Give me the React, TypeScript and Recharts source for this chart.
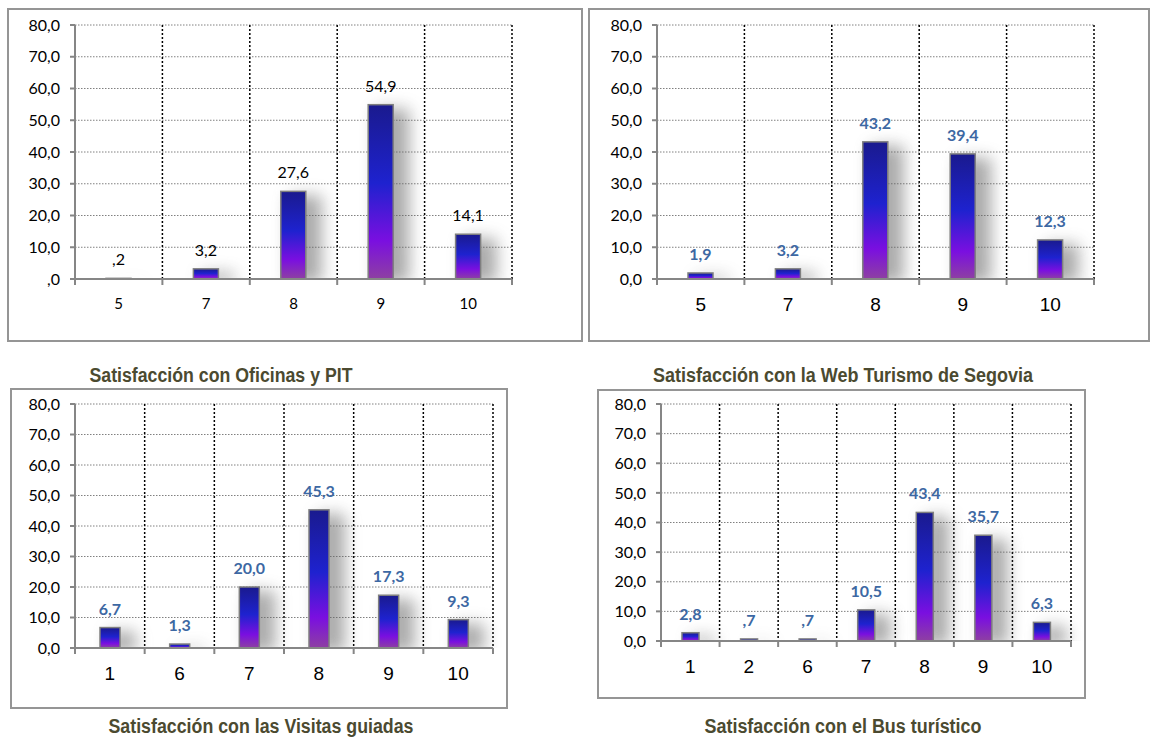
import { BarChart, Bar, XAxis, YAxis, CartesianGrid, LabelList } from 'recharts'

// Satisfacción con Oficinas y PIT
const oficinasCats = ['5', '7', '8', '9', '10']
const oficinasVals = [0.2, 3.2, 27.6, 54.9, 14.1]

// Satisfacción con la Web Turismo de Segovia
const webCats = ['5', '7', '8', '9', '10']
const webVals = [1.9, 3.2, 43.2, 39.4, 12.3]

// Satisfacción con las Visitas guiadas
const visitasCats = ['1', '6', '7', '8', '9', '10']
const visitasVals = [6.7, 1.3, 20.0, 45.3, 17.3, 9.3]

// Satisfacción con el Bus turístico
const busCats = ['1', '2', '6', '7', '8', '9', '10']
const busVals = [2.8, 0.7, 0.7, 10.5, 43.4, 35.7, 6.3]

const yTicks = [0, 10, 20, 30, 40, 50, 60, 70, 80]

const CALIBRI = "Lato, 'Open Sans', sans-serif"
const ARIAL = "'Liberation Sans', Arial, sans-serif"
const TITLE_FONT = "'Liberation Sans Narrow', 'Arial Narrow', 'Liberation Sans', Arial, sans-serif"
const AXIS_GRAY = '#868686'
const LABEL_BLUE = '#3d68a3'

const fmtNum = (v: number, leadingZero: boolean) => {
  let s = v.toFixed(1).replace('.', ',')
  if (!leadingZero && s.startsWith('0')) s = s.slice(1)
  return s
}

type Box = { left: number; top: number; width: number; height: number }
type Plot = { l: number; r: number; t: number; b: number }

interface PanelProps {
  id: string
  cats: string[]
  vals: number[]
  box: Box
  plot: Plot
  barSize: number
  classic?: boolean // first panel: small Calibri ticks, black labels, ",0"
}

const Y_AXIS_W = 50
const X_AXIS_H = 30

function Panel({ id, cats, vals, box, plot, barSize, classic }: PanelProps) {
  const data = cats.map((c, i) => ({ cat: c, v: vals[i] }))
  const margin = {
    left: plot.l - box.left - Y_AXIS_W,
    right: box.left + box.width - plot.r,
    top: plot.t - box.top,
    bottom: box.top + box.height - plot.b - X_AXIS_H,
  }
  const plotW = plot.r - plot.l
  const n = cats.length

  const XTick = (props: any) => {
    const { x, y, payload, index } = props
    const step = plotW / n
    const left = x - step / 2
    return (
      <g>
        <line x1={left} x2={left} y1={y} y2={y + 6} stroke={AXIS_GRAY} strokeWidth={2} />
        {index === n - 1 && (
          <line x1={left + step} x2={left + step} y1={y} y2={y + 6} stroke={AXIS_GRAY} strokeWidth={2} />
        )}
        <text
          x={x}
          y={y + 25}
          dy="0.35em"
          textAnchor="middle"
          fill="#000"
          fontSize={classic ? 15 : 19}
          fontFamily={classic ? CALIBRI : ARIAL}
        >
          {payload.value}
        </text>
      </g>
    )
  }

  const BarShape = (props: any) => {
    const { x, y, width, height } = props
    if (width == null || height == null) return null
    return (
      <g>
        <rect
          x={x + 8}
          y={y + 4}
          width={width + 8}
          height={Math.max(height, 0)}
          fill="#666"
          opacity={0.55}
          filter={`url(#blur-${id})`}
        />
        <rect
          x={x}
          y={y}
          width={width}
          height={Math.max(height, 0.5)}
          fill={`url(#grad-${id})`}
          stroke="#7f7f7f"
          strokeWidth={1.5}
        />
      </g>
    )
  }

  return (
    <div style={{ position: 'absolute', left: box.left, top: box.top, width: box.width, height: box.height }}>
      <div
        style={{
          position: 'absolute',
          inset: 0,
          border: '2px solid #959595',
          boxSizing: 'border-box',
        }}
      />
      <div style={{ position: 'absolute', left: 0, top: 0 }}>
        <BarChart width={box.width} height={box.height} data={data} margin={margin} barCategoryGap={0}>
          <defs>
            <linearGradient id={`grad-${id}`} x1="0" y1="0" x2="0" y2="1">
              <stop offset="0%" stopColor="#1a1a8e" />
              <stop offset="45%" stopColor="#1e22cf" />
              <stop offset="78%" stopColor="#7a0fe0" />
              <stop offset="100%" stopColor="#8e40a2" />
            </linearGradient>
            <filter id={`blur-${id}`} filterUnits="userSpaceOnUse" x={-100} y={-100} width={2000} height={2000}>
              <feGaussianBlur stdDeviation={8} />
            </filter>
          </defs>
          <CartesianGrid
            vertical={false}
            stroke="#808080"
            strokeDasharray="1.5 1.5"
            strokeWidth={1}
          />
          <CartesianGrid
            horizontal={false}
            stroke="#000"
            strokeDasharray="2 2"
            strokeWidth={1.5}
            verticalCoordinatesGenerator={({ offset }: any) =>
              cats.map((_, i) => offset.left + ((i + 1) * offset.width) / n)
            }
          />
          <XAxis
            dataKey="cat"
            height={X_AXIS_H}
            axisLine={{ stroke: AXIS_GRAY, strokeWidth: 2 }}
            tickLine={false}
            tickSize={0}
            tickMargin={0}
            tick={<XTick />}
            interval={0}
          />
          <YAxis
            width={Y_AXIS_W}
            domain={[0, 80]}
            ticks={yTicks}
            allowDataOverflow
            axisLine={{ stroke: AXIS_GRAY, strokeWidth: 2 }}
            tickLine={{ stroke: AXIS_GRAY, strokeWidth: 2 }}
            tickSize={5}
            tickMargin={10}
            tickFormatter={(v: number) => fmtNum(v, !classic)}
            tick={{ fill: '#000', fontSize: 16, fontFamily: CALIBRI }}
          />
          <Bar dataKey="v" barSize={barSize} shape={<BarShape />} isAnimationActive={false}>
            <LabelList
              dataKey="v"
              position="top"
              offset={13}
              formatter={(v: any) => fmtNum(Number(v), false)}
              fill={classic ? '#000' : LABEL_BLUE}
              fontSize={16}
              fontWeight={classic ? 400 : 700}
              fontFamily={CALIBRI}
            />
          </Bar>
        </BarChart>
      </div>
    </div>
  )
}

const titles = [
  { text: 'Satisfacción con Oficinas y PIT', x: 221, y: 382, w: 263 },
  { text: 'Satisfacción con la Web Turismo de Segovia', x: 843, y: 382, w: 380 },
  { text: 'Satisfacción con las Visitas guiadas', x: 261, y: 733, w: 305 },
  { text: 'Satisfacción con el Bus turístico', x: 843, y: 733, w: 277 },
]

export default function App() {
  return (
    <div style={{ position: 'absolute', left: 0, top: 0, width: 1153, height: 737, background: '#fff', overflow: 'hidden' }}>
      <Panel
        id="ofi"
        cats={oficinasCats}
        vals={oficinasVals}
        box={{ left: 7, top: 8, width: 576, height: 334 }}
        plot={{ l: 75, r: 512, t: 25, b: 279 }}
        barSize={25}
        classic
      />
      <Panel
        id="web"
        cats={webCats}
        vals={webVals}
        box={{ left: 588, top: 8, width: 562, height: 334 }}
        plot={{ l: 657, r: 1094, t: 25, b: 279 }}
        barSize={25}
      />
      <Panel
        id="vis"
        cats={visitasCats}
        vals={visitasVals}
        box={{ left: 10, top: 388, width: 498, height: 321 }}
        plot={{ l: 75, r: 493, t: 404, b: 648 }}
        barSize={20}
      />
      <Panel
        id="bus"
        cats={busCats}
        vals={busVals}
        box={{ left: 597, top: 389, width: 489, height: 310 }}
        plot={{ l: 661, r: 1071, t: 404, b: 641 }}
        barSize={17}
      />
      <svg width={1153} height={737} style={{ position: 'absolute', left: 0, top: 0, pointerEvents: 'none' }}>
        {titles.map((t) => (
          <text
            key={t.text}
            x={t.x - t.w / 2}
            y={t.y}
            textLength={t.w}
            lengthAdjust="spacingAndGlyphs"
            fontFamily={TITLE_FONT}
            fontWeight={700}
            fontSize={20}
            fill="#4b4a30"
          >
            {t.text}
          </text>
        ))}
      </svg>
    </div>
  )
}
